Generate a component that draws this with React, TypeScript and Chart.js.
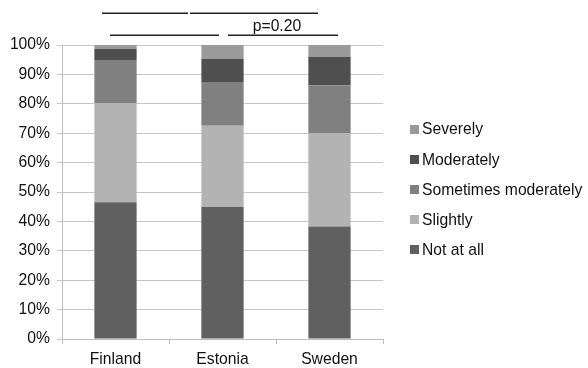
import React, { useEffect, useRef } from "react";
import { Chart, registerables } from "chart.js";

Chart.register(...registerables);

const categories = ["Finland", "Estonia", "Sweden"];
const notAtAll = [46.5, 44.9, 38.3];
const slightly = [33.8, 27.6, 31.7];
const sometimesModerately = [14.6, 14.7, 16.3];
const moderately = [3.7, 8.0, 9.7];
const severely = [1.4, 4.8, 4.0];

const seriesNames = ["Not at all", "Slightly", "Sometimes moderately", "Moderately", "Severely"];
const seriesColors = ["#606060", "#b3b3b3", "#808080", "#4f4f4f", "#9a9a9a"];

// brackets: [startCategoryPos, endCategoryPos, yValue(%)]
const brackets: [number, number, number][] = [
  [-0.126, 0.678, 110.9],
  [0.696, 1.893, 110.9],
  [-0.051, 0.967, 103.4],
  [1.051, 2.079, 103.4],
];
const pLabel = "p=0.20";
const pLabelPos: [number, number] = [1.509, 104.6];

const yTicks = [0, 10, 20, 30, 40, 50, 60, 70, 80, 90, 100];

const FONT = "'Liberation Sans', Arial, Helvetica, sans-serif";
const FS = 15.7;

export default function App() {
  const ref = useRef<HTMLCanvasElement | null>(null);

  useEffect(() => {
    if (!ref.current) return;
    const values = [notAtAll, slightly, sometimesModerately, moderately, severely];

    const overlay = {
      id: "overlay",
      afterDraw(chart: any) {
        const ctx = chart.ctx;
        const xs = chart.scales.x;
        const ys = chart.scales.y;
        const area = chart.chartArea;
        ctx.save();
        ctx.strokeStyle = "#222";
        ctx.lineWidth = 1.6;
        brackets.forEach(([a, b, v]) => {
          const y = Math.round(ys.getPixelForValue(v)) + 0.25;
          ctx.beginPath();
          ctx.moveTo(xs.getPixelForValue(a), y);
          ctx.lineTo(xs.getPixelForValue(b), y);
          ctx.stroke();
        });
        ctx.fillStyle = "#111";
        ctx.font = `${FS}px ${FONT}`;
        ctx.textAlign = "center";
        ctx.textBaseline = "alphabetic";
        ctx.fillText(pLabel, xs.getPixelForValue(pLabelPos[0]), ys.getPixelForValue(pLabelPos[1]));

        // legend (reversed order)
        const n = seriesNames.length;
        const spacing = 30.2;
        const cy = (area.top + area.bottom) / 2 - 2.5;
        const x0 = area.right + 27;
        ctx.textAlign = "left";
        ctx.textBaseline = "middle";
        for (let i = 0; i < n; i++) {
          const di = n - 1 - i;
          const y = cy + (i - (n - 1) / 2) * spacing;
          ctx.fillStyle = seriesColors[di];
          ctx.fillRect(x0, Math.round(y - 4.5), 9, 9);
          ctx.fillStyle = "#111";
          ctx.fillText(seriesNames[di], x0 + 12, y + 1);
        }
        ctx.restore();
      },
    };

    const chart = new Chart(ref.current, {
      type: "bar",
      data: {
        labels: categories,
        datasets: seriesNames.map((name, i) => ({
          label: name,
          data: values[i],
          backgroundColor: seriesColors[i],
          borderWidth: 0,
          categoryPercentage: 1,
          barPercentage: 0.395,
        })),
      },
      options: {
        animation: false,
        responsive: true,
        maintainAspectRatio: false,
        layout: { padding: { top: 45, right: 205, bottom: 0, left: 0 } },
        plugins: {
          legend: { display: false },
          tooltip: { enabled: false },
        },
        scales: {
          x: {
            stacked: true,
            grid: {
              drawOnChartArea: false,
              drawTicks: true,
              tickLength: 5,
              color: "#bdbdbd",
              offset: true,
            },
            border: { color: "#bdbdbd", width: 1 },
            ticks: {
              color: "#111",
              font: { family: FONT, size: FS },
              padding: 6,
            },
            afterFit: (s: any) => {
              s.height = 29;
            },
          },
          y: {
            stacked: true,
            min: 0,
            max: 100,
            afterBuildTicks: (s: any) => {
              s.ticks = yTicks.map((v) => ({ value: v }));
            },
            grid: {
              color: "#c6c6c6",
              lineWidth: 1,
              tickLength: 5,
            },
            border: { color: "#bdbdbd", width: 1 },
            ticks: {
              color: "#111",
              font: { family: FONT, size: FS },
              padding: 7,
              callback: (v: any) => `${v}%`,
            },
            afterFit: (s: any) => {
              s.width = 62;
            },
          },
        },
      },
      plugins: [overlay],
    });
    return () => chart.destroy();
  }, []);

  return (
    <div style={{ position: "fixed", left: 0, top: 0, width: 588, height: 368, background: "#fff" }}>
      <canvas ref={ref} />
    </div>
  );
}
